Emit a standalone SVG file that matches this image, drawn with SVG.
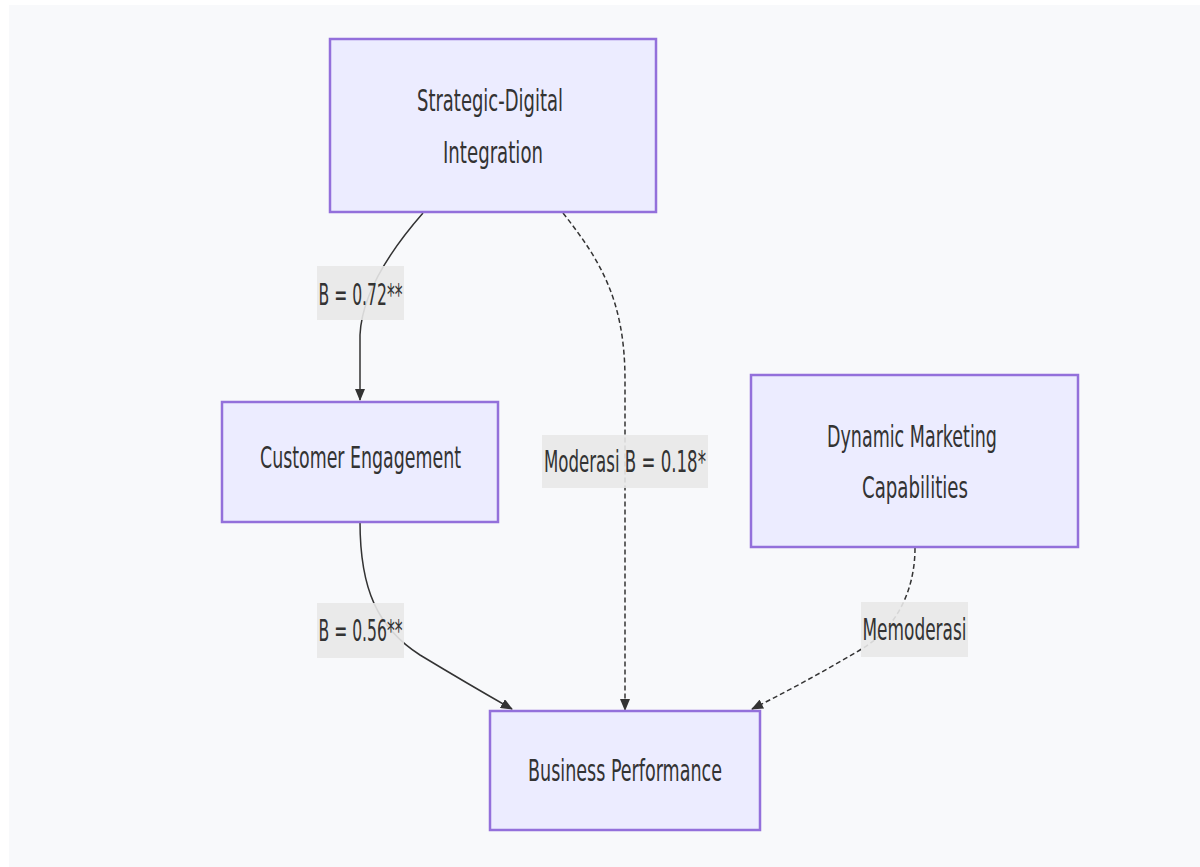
<svg xmlns="http://www.w3.org/2000/svg" width="1200" height="867" viewBox="0 0 1200 867">
<style>
.node rect{fill:#ececff;stroke:#9370db;stroke-width:2.5}
.t{font-family:"DejaVu Sans Condensed","DejaVu Sans",sans-serif;font-stretch:condensed;font-size:31px;fill:#333;text-anchor:middle}
.lbl rect{fill:#e8e8e8;opacity:0.9}
.e{fill:none;stroke:#333;stroke-width:1.5}
.d{stroke-dasharray:5 3}
</style>
<defs>
<marker id="ah" viewBox="0 0 12 10" refX="11" refY="5" markerWidth="12" markerHeight="10" markerUnits="userSpaceOnUse" orient="auto">
<path d="M0,0 L12,5 L0,10 z" fill="#333"/>
</marker>
</defs>
<rect x="0" y="0" width="1200" height="867" fill="#ffffff"/>
<rect x="9" y="5" width="1191" height="862" fill="#f8f9fb"/>
<g id="connectors">
<path class="e" d="M423,213 C395,245 362,290 360,335 L360,400" marker-end="url(#ah)"/>
<path class="e d" d="M563,213 C600,260 625,300 625,380 L625,710" marker-end="url(#ah)"/>
<path class="e" d="M360,522 C360,590 378,628 420,655 Q468,684 512,709" marker-end="url(#ah)"/>
<path class="e d" d="M915,548 C915,592 895,630 860,650 Q806,682 752,709" marker-end="url(#ah)"/>
</g>
<g id="edge-labels">
<g class="lbl"><rect x="317" y="266" width="87" height="54"/><text class="t" x="360.5" y="305" textLength="84" lengthAdjust="spacingAndGlyphs">B = 0.72**</text></g>
<g class="lbl"><rect x="542" y="435" width="166" height="53"/><text class="t" x="625" y="472" textLength="162" lengthAdjust="spacingAndGlyphs">Moderasi B = 0.18*</text></g>
<g class="lbl"><rect x="317" y="603" width="87" height="55"/><text class="t" x="360.5" y="641" textLength="84" lengthAdjust="spacingAndGlyphs">B = 0.56**</text></g>
<g class="lbl"><rect x="861" y="602" width="107" height="55"/><text class="t" x="914.5" y="640" textLength="104" lengthAdjust="spacingAndGlyphs">Memoderasi</text></g>
</g>
<g id="sdi" class="node"><rect x="330" y="39" width="326" height="173"/>
<text class="t" x="490" y="111" textLength="146" lengthAdjust="spacingAndGlyphs">Strategic-Digital</text>
<text class="t" x="493" y="163" textLength="100" lengthAdjust="spacingAndGlyphs">Integration</text></g>
<g id="ce" class="node"><rect x="222" y="402" width="276" height="120"/>
<text class="t" x="360.5" y="468" textLength="201" lengthAdjust="spacingAndGlyphs">Customer Engagement</text></g>
<g id="dmc" class="node"><rect x="751" y="375" width="327" height="172"/>
<text class="t" x="912" y="447" textLength="170" lengthAdjust="spacingAndGlyphs">Dynamic Marketing</text>
<text class="t" x="915" y="498" textLength="106" lengthAdjust="spacingAndGlyphs">Capabilities</text></g>
<g id="bp" class="node"><rect x="490" y="711" width="270" height="119"/>
<text class="t" x="625" y="781" textLength="194" lengthAdjust="spacingAndGlyphs">Business Performance</text></g>
</svg>
